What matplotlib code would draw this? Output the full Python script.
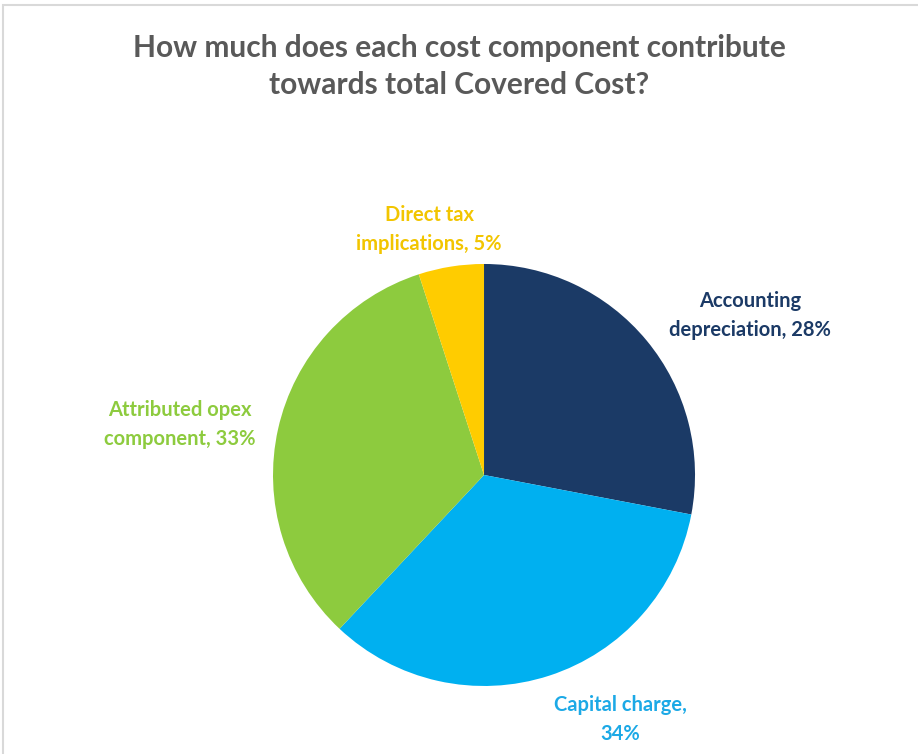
import matplotlib.pyplot as plt
from matplotlib.patches import Rectangle

plt.rcParams['font.family'] = ['Lato', 'DejaVu Sans']

# cost components, clockwise from 12 o'clock
labels = ["Accounting\ndepreciation", "Capital charge,\n", "Attributed opex\ncomponent", "Direct tax\nimplications"]
shares = [28, 34, 33, 5]
colors = ["#1B3A66", "#00B0F0", "#8DCB3E", "#FFCC00"]
text_colors = ["#1B3A66", "#1CA9E6", "#8DCB3E", "#F2C500"]
label_pos = [(1.26, 0.755), (0.645, -1.16), (-1.44, 0.24), (-0.26, 1.165)]

fig = plt.figure(figsize=(9.18, 7.54), dpi=100)
fig.patches.append(Rectangle((0.003, -0.01), 1.0, 1.003, transform=fig.transFigure,
                             fill=False, edgecolor="#D9D9D9", linewidth=1.5))

ax = fig.add_axes([0.2974, 0.0902, 0.4597, 0.5597])
ax.pie(shares, colors=colors, startangle=90, counterclock=False, radius=1,
       wedgeprops=dict(linewidth=0))
ax.set_xlim(-1, 1)
ax.set_ylim(-1, 1)
ax.set_aspect("equal")
ax.axis("off")

for lab, val, col, (x, y) in zip(labels, shares, text_colors, label_pos):
    if lab.endswith("\n"):
        txt = f"{lab}{val}%"
    else:
        txt = f"{lab}, {val}%"
    ax.text(x, y, txt, ha="center", va="center", color=col, fontsize=14.5,
            fontweight="bold", linespacing=1.55, clip_on=False)

fig.text(0.5, 0.912, "How much does each cost component contribute\ntowards total Covered Cost?",
         ha="center", va="center", fontsize=21.5, fontweight="bold", color="#595959",
         linespacing=1.38)

fig.savefig("out.png", dpi=100)
